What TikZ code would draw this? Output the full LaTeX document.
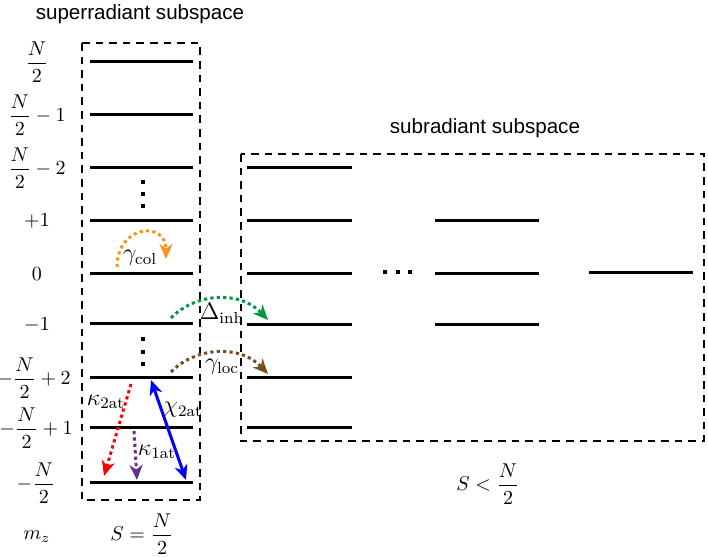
\documentclass[tikz,border=0pt]{standalone}
\usepackage{fontspec}
\usepackage{amsmath}
\newfontfamily\arialfont{Liberation Sans}
\usetikzlibrary{arrows.meta}
\definecolor{colorange}{RGB}{247,148,29}
\definecolor{inhgreen}{RGB}{0,150,70}
\definecolor{locbrown}{RGB}{117,76,36}
\definecolor{onepurple}{RGB}{102,45,145}
\tikzset{
	level/.style={line width=1.5pt},
	subbox/.style={line width=1.1pt, dash pattern=on 3.8pt off 3pt},
	dotarrow/.style={line width=1.5pt, dash pattern=on 1.6pt off 1.6pt, -{Stealth[length=7.5pt,width=6.5pt,inset=2.3pt]}},
	solidarrow/.style={line width=1.5pt, {Stealth[length=7.5pt,width=6.5pt,inset=2.3pt]}-{Stealth[length=7.5pt,width=6.5pt,inset=2.3pt]}},
	mzlabel/.style={font=\fontsize{10}{12}\selectfont},
	ratelabel/.style={font=\fontsize{12}{14}\selectfont, inner sep=1pt},
	title/.style={font=\fontsize{10.3}{12}\selectfont\arialfont}
}
\begin{document}
\begin{tikzpicture}[x=0.5pt,y=-0.5pt]
	\useasboundingbox (0,0) rectangle (708,557);
	% boxes
	\draw[subbox] (82,43) rectangle (200,500);
	\draw[subbox] (241,154) rectangle (704,441);
	\node[title] (supertitle) at (140,14) {superradiant subspace};
	\node[title] (subtitle) at (485,128) {subradiant subspace};
	% levels
	\foreach \y in {61,114,167,220,273,323,377,427,482}
		\draw[level] (90,\y) -- (193,\y);
	\foreach \y in {167,220,273,324,377,427}
		\draw[level] (247,\y) -- (352,\y);
	\foreach \y in {220,273,324}
		\draw[level] (435,\y) -- (539,\y);
	\draw[level] (589,272) -- (693,272);
	\foreach \y in {182,194,206,339,352,364}
		\fill (140.5,\y-2.2) rectangle (144.5,\y+2.2);
	\foreach \x in {385,398,410}
		\fill (\x-2.2,270) rectangle (\x+2.2,274.4);
	% m_z labels
	\node[mzlabel] (mtop) at (37,62) {$\dfrac{N}{2}$};
	\node[mzlabel] (mtopa) at (37,115) {$\dfrac{N}{2}-1$};
	\node[mzlabel] (mtopb) at (37,168) {$\dfrac{N}{2}-2$};
	\node[mzlabel] (mplus) at (37,221) {$+1$};
	\node[mzlabel] (mzero) at (37,274) {$0$};
	\node[mzlabel] (mminus) at (37,325) {$-1$};
	\node[mzlabel] (mbota) at (34,378) {$-\dfrac{N}{2}+2$};
	\node[mzlabel] (mbotb) at (36,428) {$-\dfrac{N}{2}+1$};
	\node[mzlabel] (mbot) at (36,483) {$-\dfrac{N}{2}$};
	\node[mzlabel] (mz) at (37,537) {$m_z$};
	\node[mzlabel] (sfull) at (142,534) {$S=\dfrac{N}{2}$};
	\node[mzlabel] (sless) at (488,484) {$S<\dfrac{N}{2}$};
	% rates
	\coordinate (cola) at (117,267);
	\coordinate (colb) at (166,259);
	\coordinate (inha) at (171,318);
	\coordinate (inhb) at (268,320);
	\coordinate (loca) at (171,372);
	\coordinate (locb) at (268,374);
	\coordinate (twoa) at (131,384);
	\coordinate (twob) at (104,476);
	\coordinate (onea) at (134,431);
	\coordinate (oneb) at (137,480);
	\coordinate (chia) at (151,380);
	\coordinate (chib) at (186,480);
	\draw[dotarrow, colorange] (cola) .. controls (117,225) and (166,220) .. (colb);
	\draw[dotarrow, inhgreen] (inha) .. controls (195,293) and (240,290) .. (inhb);
	\draw[dotarrow, locbrown] (loca) .. controls (195,347) and (240,344) .. (locb);
	\draw[dotarrow, red] (twoa) -- (twob);
	\draw[dotarrow, onepurple] (onea) -- (oneb);
	\draw[solidarrow, blue] (chia) -- (chib);
	\node[ratelabel] (gcol) at (140,258) {$\gamma_{\mathrm{col}}$};
	\node[ratelabel] (dinh) at (222,313) {$\Delta_{\mathrm{inh}}$};
	\node[ratelabel] (gloc) at (222,367) {$\gamma_{\mathrm{loc}}$};
	\node[ratelabel] (ktwo) at (106,402) {$\kappa_{\mathrm{2at}}$};
	\node[ratelabel] (kone) at (157,452) {$\kappa_{\mathrm{1at}}$};
	\node[ratelabel] (chi) at (183,410) {$\chi_{\mathrm{2at}}$};
\end{tikzpicture}
\end{document}
